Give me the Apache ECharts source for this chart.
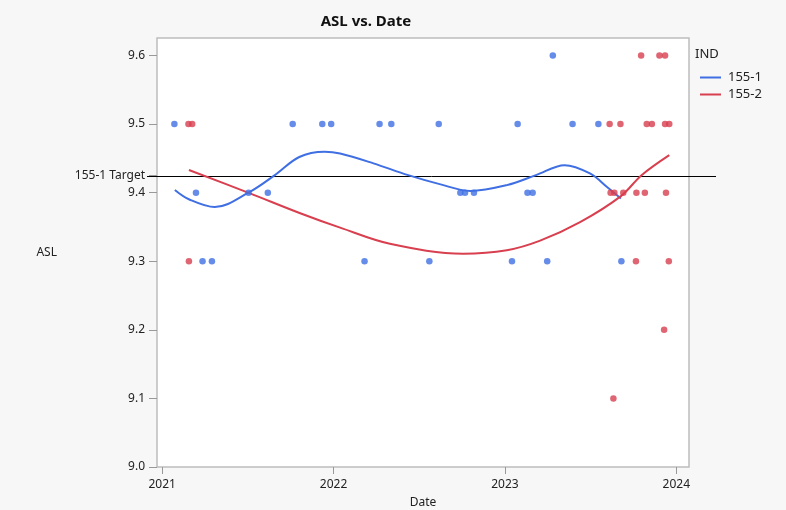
<!DOCTYPE html>
<html>
<head>
<meta charset="utf-8">
<script src="https://cdn.jsdelivr.net/npm/echarts@6/dist/echarts.min.js"></script>
<style>
  html, body { margin: 0; padding: 0; background: #f7f7f7; }
  #chart { width: 786px; height: 510px; }
</style>
</head>
<body>
<div id="chart"></div>
<script>
// ASL measurements by date, grouped by IND
var ind1Dates = [
  '2021-01-27', '2021-10-06', '2021-12-08', '2021-12-27', '2022-04-09', '2022-05-04',
  '2022-08-13', '2023-01-28', '2023-05-25', '2023-07-19',
  '2023-04-13',
  '2021-03-14', '2021-07-04', '2021-08-14', '2022-09-28', '2022-10-08', '2022-10-27',
  '2023-02-18', '2023-03-01',
  '2021-03-28', '2021-04-17', '2022-03-08', '2022-07-24', '2023-01-16', '2023-04-01',
  '2023-09-06'
];
var ind1Values = [
  9.5, 9.5, 9.5, 9.5, 9.5, 9.5,
  9.5, 9.5, 9.5, 9.5,
  9.6,
  9.4, 9.4, 9.4, 9.4, 9.4, 9.4,
  9.4, 9.4,
  9.3, 9.3, 9.3, 9.3, 9.3, 9.3,
  9.3
];
var ind2Dates = [
  '2023-10-18', '2023-11-26', '2023-12-08',
  '2021-02-26', '2021-03-06', '2023-08-12', '2023-09-04', '2023-10-30', '2023-11-10',
  '2023-12-08', '2023-12-17',
  '2023-08-14', '2023-08-22', '2023-09-10', '2023-10-08', '2023-10-26', '2023-12-10',
  '2021-02-27', '2023-10-07', '2023-12-16',
  '2023-12-06',
  '2023-08-20'
];
var ind2Values = [
  9.6, 9.6, 9.6,
  9.5, 9.5, 9.5, 9.5, 9.5, 9.5,
  9.5, 9.5,
  9.4, 9.4, 9.4, 9.4, 9.4, 9.4,
  9.3, 9.3, 9.3,
  9.2,
  9.1
];

// Smoothed fit through each group
var fit1Dates = [
  '2021-01-28', '2021-02-28', '2021-04-23', '2021-07-04', '2021-08-29', '2021-10-20',
  '2021-12-13', '2022-01-15', '2022-03-27', '2022-06-09', '2022-08-15', '2022-10-19',
  '2023-01-05', '2023-03-08', '2023-05-08', '2023-07-01', '2023-08-07', '2023-09-05'
];
var fit1Values = [
  9.404, 9.390, 9.379, 9.400, 9.4255, 9.452,
  9.4596, 9.457, 9.4427, 9.4255, 9.4124, 9.4026,
  9.411, 9.4255, 9.440, 9.428, 9.408, 9.3915
];
var fit2Dates = [
  '2021-02-27', '2021-07-07', '2021-10-22', '2022-01-15', '2022-05-01', '2022-10-04',
  '2023-01-05', '2023-03-17', '2023-06-10', '2023-09-05', '2023-10-19', '2023-12-17'
];
var fit2Values = [
  9.433, 9.399, 9.370, 9.349, 9.3255, 9.311,
  9.316, 9.330, 9.357, 9.395, 9.4255, 9.4547
];

var targetName = '155-1 Target';
var targetValue = 9.425;

var yTicks = [9.0, 9.1, 9.2, 9.3, 9.4, 9.5, 9.6];
var xTickLabels = ['2021', '2022', '2023', '2024'];

var seriesNames = ['155-1', '155-2'];
var colors = ['#3f6fe2', '#d83f4f'];

function ts(s) { return new Date(s + 'T00:00:00Z').getTime(); }
function zip(ds, vs) { return ds.map(function (d, i) { return [ts(d), vs[i]]; }); }

var xTickValues = xTickLabels.map(function (y) { return ts(y + '-01-01'); });
var yLabelValues = yTicks.concat([targetValue]);

var chart = echarts.init(document.getElementById('chart'), null, { renderer: 'canvas' });

chart.setOption({
  backgroundColor: '#f7f7f7',
  animation: false,
  textStyle: { fontFamily: 'Noto Sans, sans-serif' },
  title: {
    text: 'ASL vs. Date',
    left: 361,
    top: 9,
    textAlign: 'center',
    textStyle: { fontSize: 15, fontWeight: 'bold', color: '#111' }
  },
  legend: {
    orient: 'vertical',
    left: 695,
    top: 66,
    itemGap: 4,
    itemWidth: 21,
    itemHeight: 2,
    icon: 'rect',
    data: seriesNames,
    textStyle: { fontSize: 13, color: '#222', padding: [0, 0, 0, 2] }
  },
  grid: {
    left: 157, top: 38, right: 97, bottom: 43,
    outerBoundsMode: 'none',
    containLabel: false,
    show: true,
    backgroundColor: '#ffffff',
    borderColor: '#bdbdbd',
    borderWidth: 1.5
  },
  xAxis: {
    type: 'value',
    min: ts('2020-12-21'),
    max: ts('2024-01-28'),
    name: 'Date',
    nameLocation: 'middle',
    nameGap: 30,
    nameTextStyle: { fontSize: 12, color: '#222' },
    axisLine: { show: false },
    splitLine: { show: false },
    axisTick: {
      show: true, length: 7, customValues: xTickValues,
      lineStyle: { color: '#999' }
    },
    axisLabel: {
      customValues: xTickValues,
      margin: 12,
      fontSize: 12,
      color: '#222',
      formatter: function (v) { return String(new Date(v).getUTCFullYear()); }
    }
  },
  yAxis: {
    type: 'value',
    min: 9.0,
    max: 9.6255,
    name: 'ASL',
    nameLocation: 'middle',
    nameRotate: 0,
    nameGap: 100,
    nameTextStyle: { fontSize: 12, color: '#222' },
    axisLine: { show: false },
    splitLine: { show: false },
    axisTick: {
      show: true, length: 8, customValues: yLabelValues,
      lineStyle: { color: '#999' }
    },
    axisLabel: {
      customValues: yLabelValues,
      margin: 12,
      fontSize: 12,
      color: '#222',
      formatter: function (v) {
        return Math.abs(v - targetValue) < 1e-6 ? targetName : v.toFixed(1);
      }
    }
  },
  series: [
    {
      name: seriesNames[0], type: 'line', smooth: 0.35, showSymbol: false,
      data: zip(fit1Dates, fit1Values), color: colors[0],
      lineStyle: { width: 2, color: colors[0] }, z: 3
    },
    {
      name: seriesNames[1], type: 'line', smooth: 0.35, showSymbol: false,
      data: zip(fit2Dates, fit2Values), color: colors[1],
      lineStyle: { width: 2, color: colors[1] }, z: 3
    },
    {
      name: seriesNames[0], type: 'scatter', symbolSize: 6.5,
      data: zip(ind1Dates, ind1Values), itemStyle: { color: colors[0] }, z: 4
    },
    {
      name: seriesNames[1], type: 'scatter', symbolSize: 6.5,
      data: zip(ind2Dates, ind2Values), itemStyle: { color: colors[1] }, z: 4
    }
  ]
});

// Target reference line: runs from the axis label across the frame, past the right edge
var targetY = Math.round(chart.convertToPixel({ yAxisIndex: 0 }, targetValue)) + 0.5;
chart.setOption({
  graphic: [
    {
      type: 'text',
      left: 695,
      top: 48,
      style: { text: 'IND', fontSize: 13, fill: '#222', fontFamily: 'Noto Sans, sans-serif' }
    },
    {
      type: 'line',
      z: 2,
      shape: { x1: 147, y1: targetY, x2: 716, y2: targetY },
      style: { stroke: '#000', lineWidth: 1 }
    }
  ]
});
</script>
</body>
</html>
